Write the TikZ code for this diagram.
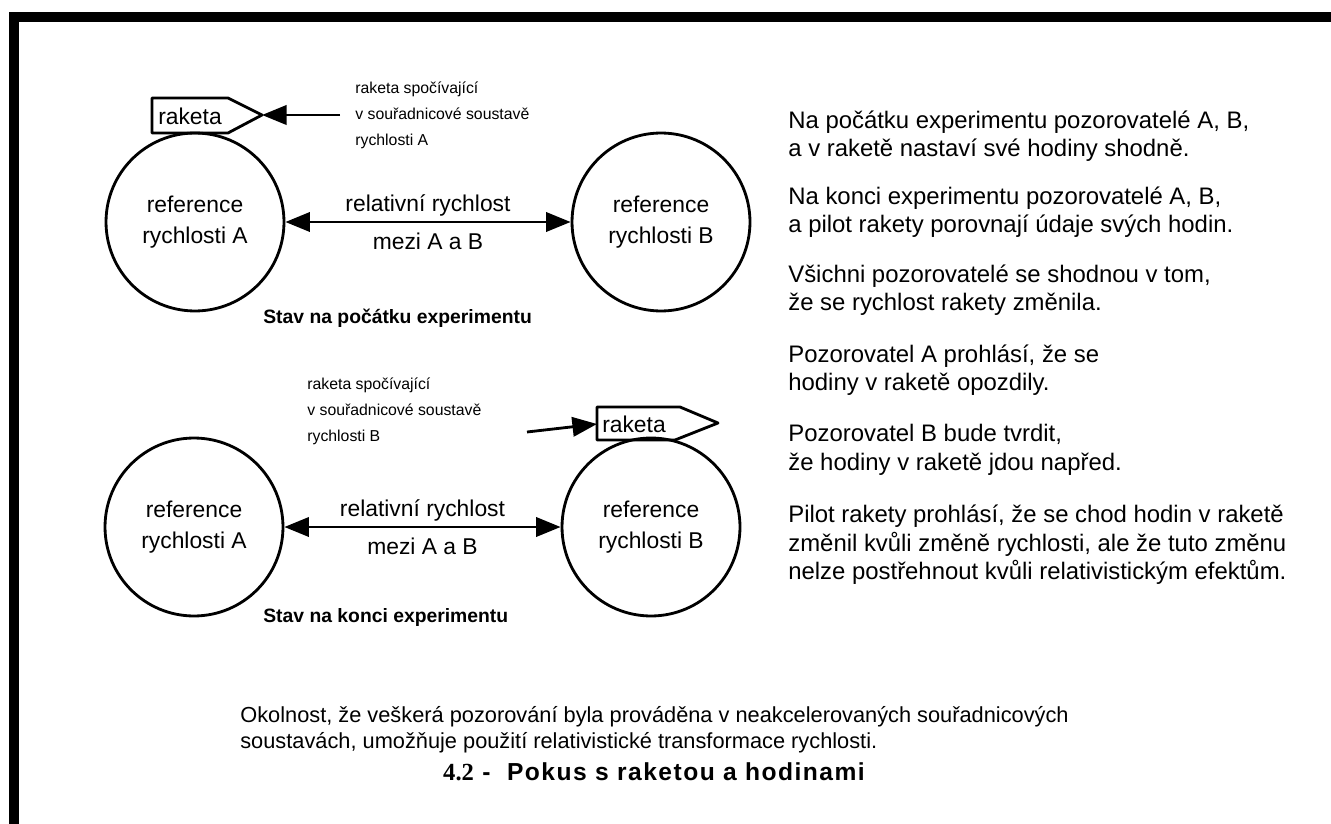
\documentclass[tikz,border=0pt]{standalone}
\usepackage{fontspec}
\setmainfont{Liberation Sans}
\newfontfamily\timesfont{Liberation Serif}
\newfontfamily\spacedfont[LetterSpace=6]{Liberation Sans}
\usepackage{xcolor}
\usetikzlibrary{arrows.meta}

\begin{document}
\begin{tikzpicture}[x=0.02cm, y=-0.02cm]
    \tikzstyle{refcircle} = [circle, draw, line width=1.6pt, minimum size=3.56cm, inner sep=0pt, align=center, font=\fontsize{13}{17.5}\selectfont]
    \tikzstyle{rocket} = [draw, line width=1.6pt, line join=round]
    \tikzstyle{rockettext} = [inner sep=0pt, font=\fontsize{13}{16}\selectfont]
    \tikzstyle{rellabel} = [font=\fontsize{13}{16}\selectfont]
    \tikzstyle{note} = [anchor=west, align=left, inner sep=0pt, font=\fontsize{13.6}{16.2}\selectfont]
    \tikzstyle{smallnote} = [anchor=west, align=left, inner sep=0pt, font=\fontsize{9}{14.8}\selectfont]
    \tikzstyle{heading} = [anchor=west, inner sep=0pt, font=\bfseries\fontsize{11}{13}\selectfont]
    \tikzstyle{relarrow} = [line width=1.6pt, {Triangle[length=14pt,width=11pt]}-{Triangle[length=14pt,width=11pt]}]
    \tikzstyle{pointer} = [line width=1.6pt, -{Triangle[length=14pt,width=11pt]}]

    \useasboundingbox (0,0) rectangle (1331,824);
    % frame
    \fill (9,12) rectangle (1331,22);
    \fill (9,12) rectangle (19,824);

    % Stav na pocatku experimentu
    \node [refcircle] (refA1) at (195,222) {reference\\rychlosti A};
    \node [refcircle] (refB1) at (661,222) {reference\\rychlosti B};
    \draw [relarrow] (refA1) -- (refB1)
        node [rellabel, midway, above=-1pt] {relativní rychlost}
        node [rellabel, midway, below=2pt] {mezi A a B};
    \draw [rocket] (152,98) -- (228,98) -- (262,115) coordinate (tipA) -- (228,133) -- (152,133) -- cycle;
    \node [rockettext] (rocketA) at (190,116) {raketa};
    \coordinate (fromA) at (340,115);
    \draw [pointer] (fromA) -- (tipA);
    \node [smallnote] (noteA) at (355,115) {raketa spočívající\\v souřadnicové soustavě\\rychlosti A};
    \node [heading] (titleA) at (263,318) {Stav na počátku experimentu};

    % Stav na konci experimentu
    \node [refcircle] (refA2) at (194,527) {reference\\rychlosti A};
    \node [refcircle] (refB2) at (651,527) {reference\\rychlosti B};
    \draw [relarrow] (refA2) -- (refB2)
        node [rellabel, midway, above=-1pt] {relativní rychlost}
        node [rellabel, midway, below=2pt] {mezi A a B};
    \draw [rocket] (597,407) -- (680,407) -- (718,423) -- (675,440) -- (597,440) -- cycle;
    \coordinate (boxB) at (597,424);
    \node [rockettext] (rocketB) at (634,424) {raketa};
    \coordinate (fromB) at (527,432);
    \draw [pointer] (fromB) -- (boxB);
    \node [smallnote] (noteB) at (307,411) {raketa spočívající\\v souřadnicové soustavě\\rychlosti B};
    \node [heading] (titleB) at (263,617) {Stav na konci experimentu};

    % Komentare vpravo
    \node [note] (n1) at (788,136) {Na počátku experimentu pozorovatelé A, B,\\a v raketě nastaví své hodiny shodně.};
    \node [note] (n2) at (788,212) {Na konci experimentu pozorovatelé A, B,\\a pilot rakety porovnají údaje svých hodin.};
    \node [note] (n3) at (788,290) {Všichni pozorovatelé se shodnou v tom,\\že se rychlost rakety změnila.};
    \node [note] (n4) at (788,370) {Pozorovatel A prohlásí, že se\\hodiny v raketě opozdily.};
    \node [note] (n5) at (788,450) {Pozorovatel B bude tvrdit,\\že hodiny v raketě jdou napřed.};
    \node [note] (n6) at (788,545) {Pilot rakety prohlásí, že se chod hodin v raketě\\změnil kvůli změně rychlosti, ale že tuto změnu\\nelze postřehnout kvůli relativistickým efektům.};

    % Zaver a popisek
    \node [anchor=west, align=left, inner sep=0pt, font=\fontsize{12.4}{14.8}\selectfont] (summary) at (240,730) {Okolnost, že veškerá pozorování byla prováděna v neakcelerovaných souřadnicových\\soustavách, umožňuje použití relativistické transformace rychlosti.};
    \node [inner sep=0pt, font=\spacedfont\bfseries\fontsize{14}{16}\selectfont] (caption) at (654,772) {{\timesfont 4.2} -\ \ Pokus s raketou a hodinami};
\end{tikzpicture}
\end{document}
